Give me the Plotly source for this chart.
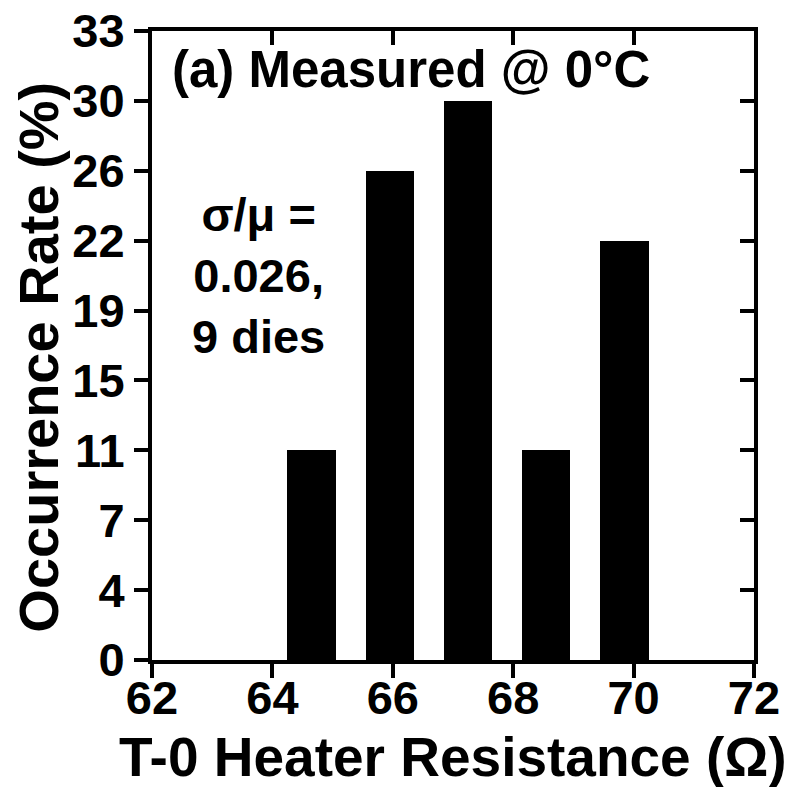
import plotly.graph_objects as go

# Data
resistance_centers = [64.65, 65.95, 67.25, 68.55, 69.85]
occurrence_rate = [11.11, 25.93, 29.63, 11.11, 22.22]
bar_width = 0.8

x_tickvals = [62, 64, 66, 68, 70, 72]
x_ticktext = ["62", "64", "66", "68", "70", "72"]
y_tickvals = [0, 3.704, 7.407, 11.111, 14.815, 18.519, 22.222, 25.926, 29.630, 33.333]
y_ticktext = ["0", "4", "7", "11", "15", "19", "22", "26", "30", "33"]
x_range = [62, 72]
y_range = [0, 33.333]

FONT = "Liberation Sans, Arial, sans-serif"

fig = go.Figure()
fig.add_trace(go.Bar(
    x=resistance_centers, y=occurrence_rate, width=bar_width,
    marker=dict(color="black", line=dict(width=0)),
    showlegend=False, hoverinfo="skip",
))
# invisible traces to hold the mirrored (top/right) axes and the label axis
fig.add_trace(go.Scatter(x=[None], y=[None], xaxis="x2", yaxis="y2",
                         showlegend=False, hoverinfo="skip"))
fig.add_trace(go.Scatter(x=[None], y=[None], xaxis="x3", yaxis="y",
                         showlegend=False, hoverinfo="skip"))

tickfont = dict(family=FONT, size=47, color="black")
titlefont = dict(family=FONT, size=55, color="black")
LW = 4

fig.update_layout(
    width=795, height=787,
    margin=dict(l=152, r=41, t=31, b=127),
    plot_bgcolor="white", paper_bgcolor="white",
    bargap=0,
    font=dict(family=FONT, color="black"),
    xaxis=dict(
        range=x_range, tickvals=x_tickvals,
        ticks="outside", ticklen=14, tickwidth=LW, tickcolor="black",
        showline=True, linewidth=LW, linecolor="black",
        showgrid=False, zeroline=False, automargin=False,
        showticklabels=False,
    ),
    xaxis3=dict(
        overlaying="x", side="bottom", anchor="y", range=x_range,
        tickvals=x_tickvals, ticktext=["<b>%s</b>" % t for t in x_ticktext],
        ticks="", showline=False, showgrid=False, zeroline=False, automargin=False,
        tickfont=tickfont, ticklabelstandoff=6,
    ),
    yaxis=dict(
        range=y_range, tickvals=y_tickvals,
        ticktext=["<b>%s</b>" % t for t in y_ticktext],
        ticks="outside", ticklen=14, tickwidth=LW, tickcolor="black",
        showline=True, linewidth=LW, linecolor="black",
        showgrid=False, zeroline=False, automargin=False,
        tickfont=tickfont,
    ),
    xaxis2=dict(
        overlaying="x", side="top", range=x_range, tickvals=x_tickvals,
        ticks="inside", ticklen=14, tickwidth=LW, tickcolor="black",
        showline=True, linewidth=LW, linecolor="black",
        showticklabels=False, showgrid=False, zeroline=False, automargin=False,
    ),
    yaxis2=dict(
        overlaying="y", side="right", range=y_range, tickvals=y_tickvals,
        ticks="inside", ticklen=14, tickwidth=LW, tickcolor="black",
        showline=True, linewidth=LW, linecolor="black",
        showticklabels=False, showgrid=False, zeroline=False, automargin=False,
    ),
)

# axis titles placed like the reference
fig.add_annotation(
    x=0.5, y=-0.154, xref="paper", yref="paper", xanchor="center", yanchor="middle",
    text="<b>T-0 Heater Resistance (Ω)</b>", showarrow=False,
    font=titlefont,
)
fig.add_annotation(
    x=-0.188, y=0.482, xref="paper", yref="paper", xanchor="center", yanchor="middle",
    text="<b>Occurrence Rate (%)</b>", showarrow=False, textangle=-90,
    font=dict(family=FONT, size=56, color="black"),
)
fig.add_annotation(
    x=62.3, y=31.3, xref="x", yref="y", xanchor="left", yanchor="middle",
    text="<b>(a) Measured @ 0°C</b>", showarrow=False,
    font=dict(family=FONT, size=51, color="black"),
)
fig.add_annotation(
    x=63.77, y=20.4, xref="x", yref="y", xanchor="center", yanchor="middle",
    text="<b>σ/μ =<br>0.026,<br>9 dies</b>", showarrow=False, align="center",
    font=dict(family=FONT, size=47, color="black"),
)

fig.write_html("out.html")
